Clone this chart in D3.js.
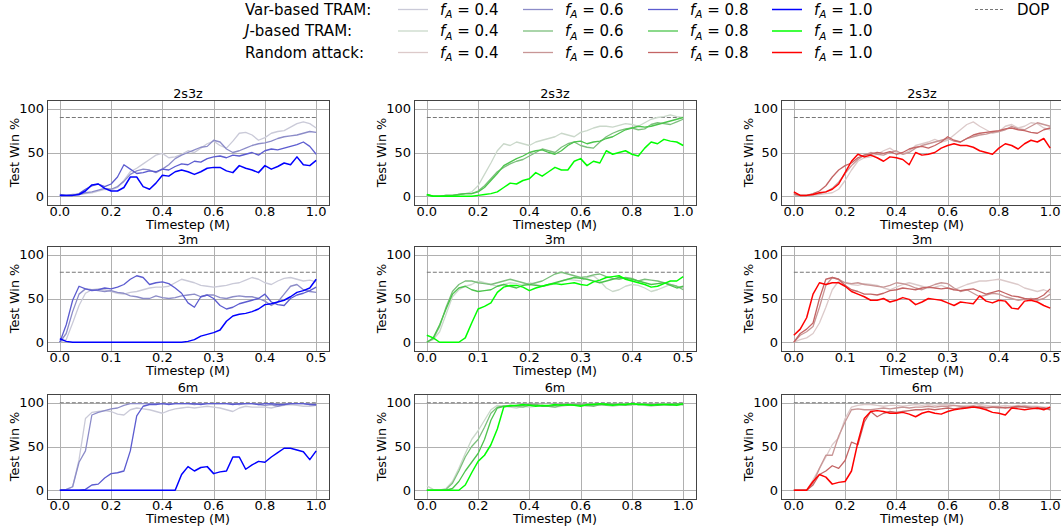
<!DOCTYPE html>
<html>
<head>
<meta charset="utf-8">
<script src="https://cdnjs.cloudflare.com/ajax/libs/d3/7.8.5/d3.min.js"></script>
<style>
  body { margin: 0; background: #fff; }
  text { font-family: "DejaVu Sans", sans-serif; fill: #000; }
</style>
</head>
<body>
<div id="chart"></div>
<script>
///////////////////////////////////////////////////////////////////////////
//////////////////////////////// Data /////////////////////////////////////
///////////////////////////////////////////////////////////////////////////

var maps = ["2s3z", "3m", "6m"];
var methodLabels = ["Var-based TRAM:", "J-based TRAM:", "Random attack:"];
var fLabels = ["0.4", "0.6", "0.8", "1.0"];
var dopLevels = [90, 80, 100];
var xMaxes = [1.0, 0.5, 1.0];
var xTicks1M = [0, 0.2, 0.4, 0.6, 0.8, 1.0];
var xTicks05M = [0, 0.1, 0.2, 0.3, 0.4, 0.5];
var yTicks = [0, 50, 100];

var methodColors = [
  ["#cacad8", "#8c8cc8", "#5c5cd0", "#0000ff"],
  ["#cad8ca", "#7cbf7c", "#4cc44c", "#00ff00"],
  ["#dccaca", "#c89696", "#c46464", "#ff0000"]
];

// sample grid: every 25k steps on 1M runs, every 12.5k steps on the 0.5M runs
var steps1M = d3.range(41).map(function(i){ return i * 0.025; });
var steps05M = d3.range(41).map(function(i){ return i * 0.0125; });

// test win % per f_A (0.4, 0.6, 0.8, 1.0)
var var_2s3z = [
  [1,1,1,2,3,4,6,8,7,10,18,28,32,37,42,47,49,44,45,48,52,50,55,60,63,58,55,63,72,73,70,64,67,72,74,75,79,83,85,83,78],
  [1,1,2,2,4,5,7,9,8,11,17,25,29,31,30,27,31,36,43,47,50,53,56,57,64,62,54,50,52,55,58,60,61,63,66,68,69,70,72,74,73],
  [2,1,1,3,8,12,14,11,14,22,36,31,26,27,29,28,31,30,34,37,36,40,39,43,45,46,44,47,46,48,50,47,52,54,53,55,57,59,62,57,48],
  [1,1,1,2,6,13,14,9,6,6,10,22,22,11,8,15,24,23,28,30,28,25,28,32,33,33,29,27,35,32,30,27,35,31,34,38,36,45,36,35,41]
];
var j_2s3z = [
  [1,0,0,1,1,2,3,5,12,25,38,52,60,58,62,60,58,62,64,66,68,72,70,68,73,75,78,80,80,79,81,83,82,80,84,88,90,91,93,91,90],
  [1,0,0,1,1,2,3,3,6,12,20,28,33,37,40,42,46,50,54,52,50,56,60,62,58,56,55,62,68,72,75,77,78,76,77,82,84,83,82,85,88],
  [2,0,0,1,1,2,3,3,5,10,18,26,35,39,43,46,50,52,53,50,48,52,58,62,63,60,62,63,66,68,72,76,78,80,79,80,82,84,86,88,90],
  [2,0,0,0,0,0,0,0,1,2,3,5,10,15,14,18,20,27,23,28,33,30,30,40,43,35,40,38,52,48,50,52,48,46,55,62,60,65,63,62,58]
];
var rand_2s3z = [
  [1,1,1,1,2,3,4,8,18,30,40,44,45,48,52,55,50,48,52,58,60,62,65,62,64,70,76,82,85,80,76,72,74,80,82,78,80,84,83,78,76],
  [2,1,1,2,3,5,9,16,26,35,42,47,50,48,47,50,52,48,50,55,58,60,62,64,66,63,62,66,68,70,71,73,74,76,80,77,76,80,84,82,80],
  [3,1,1,3,6,12,22,30,35,38,44,47,48,50,49,51,48,50,54,56,57,55,58,62,68,64,62,66,70,72,73,74,75,77,78,76,75,73,72,76,78],
  [5,1,1,2,4,5,8,14,27,40,48,45,47,44,40,45,44,42,36,50,47,48,50,55,58,60,58,58,56,52,50,48,55,60,58,54,60,64,62,66,55]
];

var var_3m = [
  [0,3,22,42,56,60,61,60,58,56,55,57,58,60,62,63,63,64,68,72,70,68,65,64,63,64,65,67,68,71,74,72,68,66,70,73,74,72,70,71,69],
  [0,10,35,55,61,60,59,58,59,57,56,53,52,50,50,53,51,50,51,53,54,55,52,54,54,51,50,52,53,52,52,50,47,42,46,55,64,66,60,58,57],
  [0,20,48,64,61,59,60,62,61,63,66,72,76,74,66,68,69,67,62,56,45,40,52,54,50,42,38,40,44,46,48,50,55,46,43,42,50,54,56,59,63],
  [4,1,0,0,0,0,0,0,0,0,0,0,0,0,0,0,0,0,0,0,1,3,7,9,11,14,24,30,32,33,35,38,43,44,46,48,52,57,59,62,72]
];
var j_3m = [
  [0,3,12,32,52,60,64,66,70,68,66,64,66,68,67,65,68,66,64,65,67,70,72,71,70,74,76,70,62,58,60,64,66,65,62,58,60,63,66,64,62],
  [0,4,18,40,58,66,70,70,68,67,66,68,70,72,70,68,66,68,70,74,78,80,78,76,74,75,77,78,75,73,72,74,73,70,72,71,70,68,66,64,60],
  [0,5,20,38,55,62,64,60,58,59,60,64,66,64,62,65,66,65,64,66,68,70,72,74,73,72,70,68,70,72,74,73,72,70,68,66,67,68,65,62,64],
  [8,5,0,0,0,0,5,22,38,41,45,57,63,65,65,63,59,62,64,66,67,66,67,68,66,65,69,71,74,75,76,72,70,68,66,63,64,67,70,70,75]
];
var rand_3m = [
  [0,3,5,10,22,40,60,70,68,66,65,67,66,65,62,60,63,66,68,66,64,62,63,65,62,60,63,66,68,70,70,71,72,70,68,66,62,60,58,60,57],
  [0,8,12,18,40,65,74,72,68,67,68,66,65,64,63,65,68,67,65,62,60,63,66,68,67,62,58,60,56,52,54,56,55,52,50,48,49,50,48,50,55],
  [0,10,15,22,50,72,74,72,65,60,58,55,55,54,56,59,60,62,61,60,62,63,62,61,62,60,59,60,61,58,55,57,59,56,53,52,50,49,50,54,61],
  [8,15,28,55,68,66,68,68,64,58,55,52,48,48,50,46,48,51,49,43,46,50,49,48,45,42,46,45,44,53,47,45,48,47,39,38,47,48,46,42,39]
];

var var_6m = [
  [0,0,4,35,82,89,90,91,90,87,86,92,94,93,92,90,88,91,93,94,95,94,95,96,95,94,92,90,94,96,95,95,95,94,96,97,98,97,96,96,97],
  [0,1,4,32,45,86,89,91,93,94,97,99,99,99,99,99,99,99,99,99,99,98,99,99,99,99,99,99,98,99,99,98,97,98,96,98,99,99,99,98,97],
  [0,0,0,0,1,6,7,14,19,20,22,45,85,96,98,98,99,98,99,99,99,99,98,99,99,99,99,98,99,99,99,98,99,99,98,98,99,99,99,98,98],
  [0,0,0,0,0,0,0,0,0,0,0,0,0,0,0,0,0,0,0,18,27,22,26,27,19,21,22,38,38,24,29,33,32,38,43,48,48,46,44,35,45]
];
var j_6m = [
  [5,1,0,2,10,25,42,58,68,80,92,97,96,95,94,96,95,96,97,96,95,96,97,98,97,96,97,98,97,96,97,98,97,98,97,96,97,98,97,97,98],
  [0,0,0,1,8,22,38,50,58,72,88,95,96,97,96,95,97,98,97,96,95,97,98,97,98,97,96,98,97,98,98,97,98,99,98,97,98,98,97,98,98],
  [0,0,0,0,2,10,22,32,42,58,80,94,96,96,97,97,98,97,96,96,97,98,97,98,97,97,98,98,99,98,98,98,99,98,98,98,97,98,98,99,98],
  [0,0,0,0,0,0,6,20,33,40,52,70,95,97,97,98,97,96,97,97,98,97,98,97,96,98,98,99,98,97,98,98,99,98,98,97,98,98,98,97,99]
];
var rand_6m = [
  [0,0,0,12,25,38,52,60,82,95,97,98,98,97,96,97,97,96,97,98,97,98,97,98,98,97,96,97,97,98,97,96,96,97,96,97,97,96,96,95,95],
  [0,0,0,8,25,40,40,62,78,92,93,92,92,93,94,93,94,95,94,95,95,96,95,96,96,97,96,95,95,96,95,95,94,95,94,95,96,95,95,94,93],
  [0,0,0,6,18,22,28,25,34,55,52,78,90,84,88,90,89,90,91,92,92,93,92,93,94,93,94,95,96,95,94,95,95,94,95,96,95,94,93,94,92],
  [0,0,0,10,18,15,7,9,10,22,55,82,90,91,90,88,88,89,87,84,88,90,88,87,90,92,93,94,95,94,92,89,88,86,94,93,92,93,94,92,95]
];

var panels = [
  [var_2s3z, j_2s3z, rand_2s3z],
  [var_3m, j_3m, rand_3m],
  [var_6m, j_6m, rand_6m]
];

///////////////////////////////////////////////////////////////////////////
/////////////////////////////// Layout ////////////////////////////////////
///////////////////////////////////////////////////////////////////////////

var width = 1061, height = 529;
var colLeft = [47, 414, 781];
var rowTop = [100, 246, 394];
var panelW = 282, panelH = 105;
var tickSize = 13, labelSize = 12.8, legendSize = 15;

var svg = d3.select("#chart")
  .append("svg")
  .attr("width", width)
  .attr("height", height);

svg.append("rect")
  .attr("width", width)
  .attr("height", height)
  .attr("fill", "#fff");

///////////////////////////////////////////////////////////////////////////
/////////////////////////////// Panels ////////////////////////////////////
///////////////////////////////////////////////////////////////////////////

maps.forEach(function(mapName, r){
  var xMax = xMaxes[r];
  var steps = xMax == 1.0 ? steps1M : steps05M;
  var xTicks = xMax == 1.0 ? xTicks1M : xTicks05M;

  panels[r].forEach(function(series, c){
    var left = colLeft[c], top = rowTop[r];

    var x = d3.scaleLinear()
      .domain([-0.05 * xMax, 1.05 * xMax])
      .range([left, left + panelW]);
    var y = d3.scaleLinear()
      .domain([-10, 110])
      .range([top + panelH, top]);

    var g = svg.append("g");

    // grid
    g.selectAll(".vgrid").data(xTicks).enter().append("line")
      .attr("x1", function(d){ return Math.round(x(d)) + 0.5; })
      .attr("x2", function(d){ return Math.round(x(d)) + 0.5; })
      .attr("y1", top)
      .attr("y2", top + panelH)
      .attr("stroke", "#b0b0b0")
      .attr("stroke-width", 1);
    g.selectAll(".hgrid").data(yTicks).enter().append("line")
      .attr("x1", left)
      .attr("x2", left + panelW)
      .attr("y1", function(d){ return Math.round(y(d)) + 0.5; })
      .attr("y2", function(d){ return Math.round(y(d)) + 0.5; })
      .attr("stroke", "#b0b0b0")
      .attr("stroke-width", 1);

    // DOP reference
    g.append("line")
      .attr("x1", x(0))
      .attr("x2", x(xMax))
      .attr("y1", y(dopLevels[r]))
      .attr("y2", y(dopLevels[r]))
      .attr("stroke", "#777")
      .attr("stroke-width", 1.1)
      .attr("stroke-dasharray", "4,2");

    var line = d3.line()
      .x(function(d, i){ return x(steps[i]); })
      .y(function(d){ return y(d); });

    series.forEach(function(vals, k){
      g.append("path")
        .attr("d", line(vals))
        .attr("fill", "none")
        .attr("stroke", methodColors[c][k])
        .attr("stroke-width", k == 3 ? 1.5 : 1.3)
        .attr("stroke-linejoin", "round");
    });

    // frame
    g.append("rect")
      .attr("x", left + 0.5)
      .attr("y", top + 0.5)
      .attr("width", panelW)
      .attr("height", panelH)
      .attr("fill", "none")
      .attr("stroke", "#444")
      .attr("stroke-width", 1);

    // tick labels
    g.selectAll(".xt").data(xTicks).enter().append("text")
      .attr("x", function(d){ return x(d); })
      .attr("y", top + panelH + 11)
      .attr("text-anchor", "middle")
      .attr("font-size", tickSize)
      .text(function(d){ return d.toFixed(1); });
    g.selectAll(".yt").data(yTicks).enter().append("text")
      .attr("x", left - 3)
      .attr("y", function(d){ return y(d); })
      .attr("dy", "0.36em")
      .attr("text-anchor", "end")
      .attr("font-size", tickSize)
      .text(function(d){ return d; });

    // title and axis labels
    g.append("text")
      .attr("x", left + panelW / 2)
      .attr("y", top - 2.5)
      .attr("text-anchor", "middle")
      .attr("font-size", labelSize)
      .text(mapName);
    g.append("text")
      .attr("transform", "translate(" + (left - 28.5) + "," + (top + panelH / 2) + ") rotate(-90)")
      .attr("text-anchor", "middle")
      .attr("font-size", labelSize)
      .text("Test Win %");
    g.append("text")
      .attr("x", left + panelW / 2)
      .attr("y", top + panelH + 24)
      .attr("text-anchor", "middle")
      .attr("font-size", labelSize)
      .text("Timestep (M)");
  });
});

///////////////////////////////////////////////////////////////////////////
/////////////////////////////// Legend ////////////////////////////////////
///////////////////////////////////////////////////////////////////////////

var legendY = [9.5, 31, 52.5];
var legendLineX = [398, 523, 648, 772];

methodLabels.forEach(function(label, m){
  var t = svg.append("text")
    .attr("x", 245)
    .attr("y", legendY[m] + 5.3)
    .attr("font-size", legendSize);
  if (m == 1) {
    t.append("tspan").attr("font-style", "italic").text("J");
    t.append("tspan").text(label.slice(1));
  } else {
    t.text(label);
  }

  fLabels.forEach(function(f, k){
    svg.append("line")
      .attr("x1", legendLineX[k])
      .attr("x2", legendLineX[k] + 30)
      .attr("y1", legendY[m])
      .attr("y2", legendY[m])
      .attr("stroke", methodColors[m][k])
      .attr("stroke-width", k == 3 ? 1.5 : 1.3);
    var ft = svg.append("text")
      .attr("x", legendLineX[k] + 42)
      .attr("y", legendY[m] + 5.3)
      .attr("font-size", legendSize);
    ft.append("tspan").attr("font-style", "italic").text("f");
    ft.append("tspan").attr("font-style", "italic").attr("font-size", 10.5).attr("dy", 3.5).text("A");
    ft.append("tspan").attr("dy", -3.5).text(" = " + f);
  });
});

svg.append("line")
  .attr("x1", 975)
  .attr("x2", 1005)
  .attr("y1", legendY[0])
  .attr("y2", legendY[0])
  .attr("stroke", "#777")
  .attr("stroke-width", 1.1)
  .attr("stroke-dasharray", "3,2");
svg.append("text")
  .attr("x", 1017)
  .attr("y", legendY[0] + 5.3)
  .attr("font-size", legendSize)
  .text("DOP");
</script>
</body>
</html>
